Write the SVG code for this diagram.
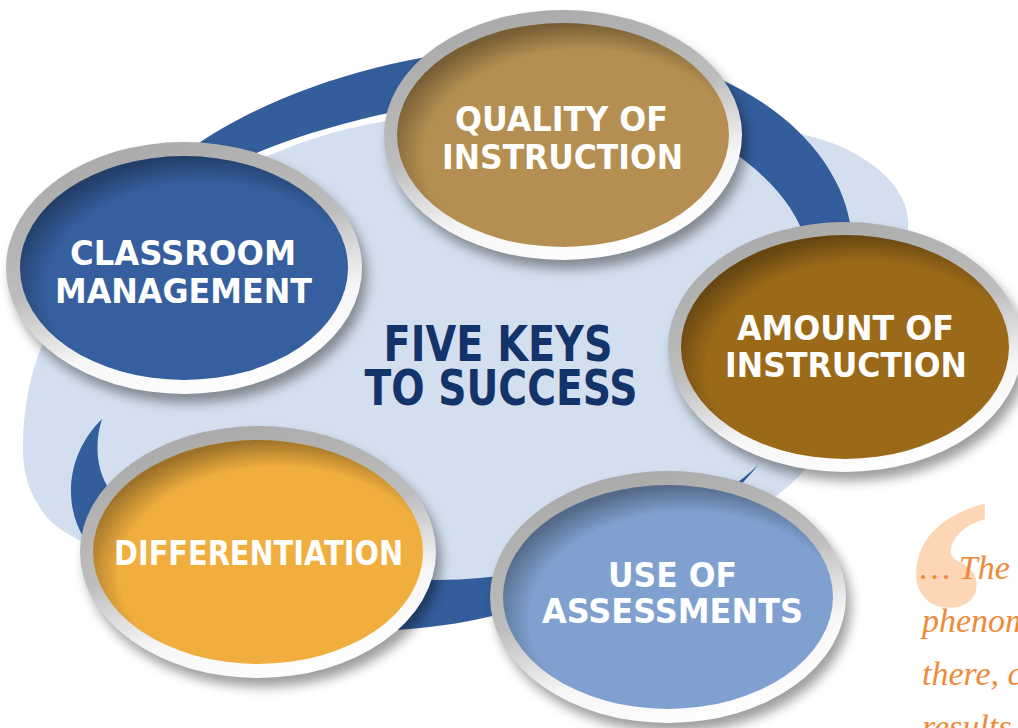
<svg xmlns="http://www.w3.org/2000/svg" width="1018" height="728" viewBox="0 0 1018 728">
<defs>
  <linearGradient id="rim" x1="0.3" y1="0" x2="0.7" y2="1">
    <stop offset="0" stop-color="#a9a9a9"/>
    <stop offset="0.45" stop-color="#bdbdbd"/>
    <stop offset="0.72" stop-color="#f6f6f6"/>
    <stop offset="1" stop-color="#ffffff"/>
  </linearGradient>
  <radialGradient id="inshade" cx="0.56" cy="0.6" r="0.6">
    <stop offset="0.8" stop-color="#000" stop-opacity="0"/>
    <stop offset="1" stop-color="#000" stop-opacity="0.34"/>
  </radialGradient>
  <filter id="blur" x="-20%" y="-20%" width="140%" height="140%">
    <feGaussianBlur stdDeviation="6"/>
  </filter>
</defs>
<style>
  .shadow{fill:#000;opacity:.38;filter:url(#blur)}
  .rim{fill:url(#rim)}
  .shade{fill:url(#inshade)}
  .ring{fill:#345d9c}
  .lbl{font-family:"DejaVu Sans","Liberation Sans",sans-serif;font-weight:bold;font-size:34px;fill:#ffffff;text-anchor:middle}
  .title{font-family:"DejaVu Sans","Liberation Sans",sans-serif;font-weight:bold;font-size:49px;fill:#13336b;text-anchor:middle}
  .quote{font-family:"Liberation Serif",serif;font-style:italic;font-size:34px;fill:#ef8a3b}
</style>
<rect width="1018" height="728" fill="#ffffff"/>

<g id="background">
  <path fill="#d3dfee" d="M23,450 C22,330 90,240 200,190 C270,150 350,118 450,115 C600,100 740,118 813,137 C870,152 912,190 908,228 C903,300 860,420 790,485 C700,560 560,600 430,600 C250,600 80,560 45,515 C30,495 23,475 23,450 Z"/>
</g>

<g id="connectors">
  <path class="ring" d="M120,215 C200,110 380,45 560,45 C680,45 800,100 840,190 C855,225 858,270 845,300 L805,240 C790,180 690,100 560,95 C460,92 330,120 240,160 C190,185 150,210 120,240 Z"/>
  <path class="ring" d="M102,419 C70,450 60,500 85,540 C150,620 300,640 420,628 C560,615 700,540 758,465 C690,530 560,570 480,578 C380,588 180,560 110,490 C95,470 95,440 102,419 Z"/>
</g>

<g id="title">
  <text class="title" x="498" y="361" textLength="229" lengthAdjust="spacingAndGlyphs">FIVE KEYS</text>
  <text class="title" x="501" y="405" textLength="273" lengthAdjust="spacingAndGlyphs">TO SUCCESS</text>
</g>

<g id="node-classroom-management">
  <ellipse class="shadow" cx="189" cy="277" rx="178" ry="126"/>
  <ellipse class="rim" cx="184" cy="268" rx="178" ry="126"/>
  <ellipse cx="184" cy="268" rx="164" ry="112" fill="#355f9e"/>
  <ellipse class="shade" cx="184" cy="268" rx="164" ry="112"/>
  <text class="lbl" x="183" y="265" textLength="226" lengthAdjust="spacingAndGlyphs">CLASSROOM</text>
  <text class="lbl" x="183.5" y="303" textLength="257" lengthAdjust="spacingAndGlyphs">MANAGEMENT</text>
</g>

<g id="node-quality-of-instruction">
  <ellipse class="shadow" cx="568" cy="144" rx="179" ry="125"/>
  <ellipse class="rim" cx="563" cy="135" rx="179" ry="125"/>
  <ellipse cx="563" cy="135" rx="166" ry="112" fill="#b48f51"/>
  <ellipse class="shade" cx="563" cy="135" rx="166" ry="112"/>
  <text class="lbl" x="561.5" y="131" textLength="213" lengthAdjust="spacingAndGlyphs">QUALITY OF</text>
  <text class="lbl" x="562.5" y="169" textLength="241" lengthAdjust="spacingAndGlyphs">INSTRUCTION</text>
</g>

<g id="node-amount-of-instruction">
  <ellipse class="shadow" cx="850" cy="356" rx="177" ry="125"/>
  <ellipse class="rim" cx="845" cy="347" rx="177" ry="125"/>
  <ellipse cx="845" cy="347" rx="164" ry="112" fill="#9b6a19"/>
  <ellipse class="shade" cx="845" cy="347" rx="164" ry="112"/>
  <text class="lbl" x="845.5" y="340" textLength="217" lengthAdjust="spacingAndGlyphs">AMOUNT OF</text>
  <text class="lbl" x="846" y="377" textLength="242" lengthAdjust="spacingAndGlyphs">INSTRUCTION</text>
</g>

<g id="node-differentiation">
  <ellipse class="shadow" cx="263" cy="561" rx="178" ry="126"/>
  <ellipse class="rim" cx="258" cy="552" rx="178" ry="126"/>
  <ellipse cx="258" cy="552" rx="165" ry="112" fill="#efae3e"/>
  <ellipse class="shade" cx="258" cy="552" rx="165" ry="112"/>
  <text class="lbl" x="258.5" y="565" textLength="289" lengthAdjust="spacingAndGlyphs">DIFFERENTIATION</text>
</g>

<g id="node-use-of-assessments">
  <ellipse class="shadow" cx="673" cy="606" rx="178" ry="126"/>
  <ellipse class="rim" cx="668" cy="597" rx="178" ry="126"/>
  <ellipse cx="668" cy="597" rx="165" ry="112" fill="#80a0cf"/>
  <ellipse class="shade" cx="668" cy="597" rx="165" ry="112"/>
  <text class="lbl" x="672.5" y="587" textLength="129" lengthAdjust="spacingAndGlyphs">USE OF</text>
  <text class="lbl" x="672.5" y="623" textLength="261" lengthAdjust="spacingAndGlyphs">ASSESSMENTS</text>
</g>

<g id="quote">
  <text x="889" y="733" font-family="Liberation Serif, serif" font-weight="bold" font-size="345" fill="#fcd6b5">‘</text>
  <text class="quote" x="920" y="579">… The</text>
  <text class="quote" x="922" y="632">phenom</text>
  <text class="quote" x="922" y="685">there, c</text>
  <text class="quote" x="922" y="738">results</text>
</g>
</svg>
